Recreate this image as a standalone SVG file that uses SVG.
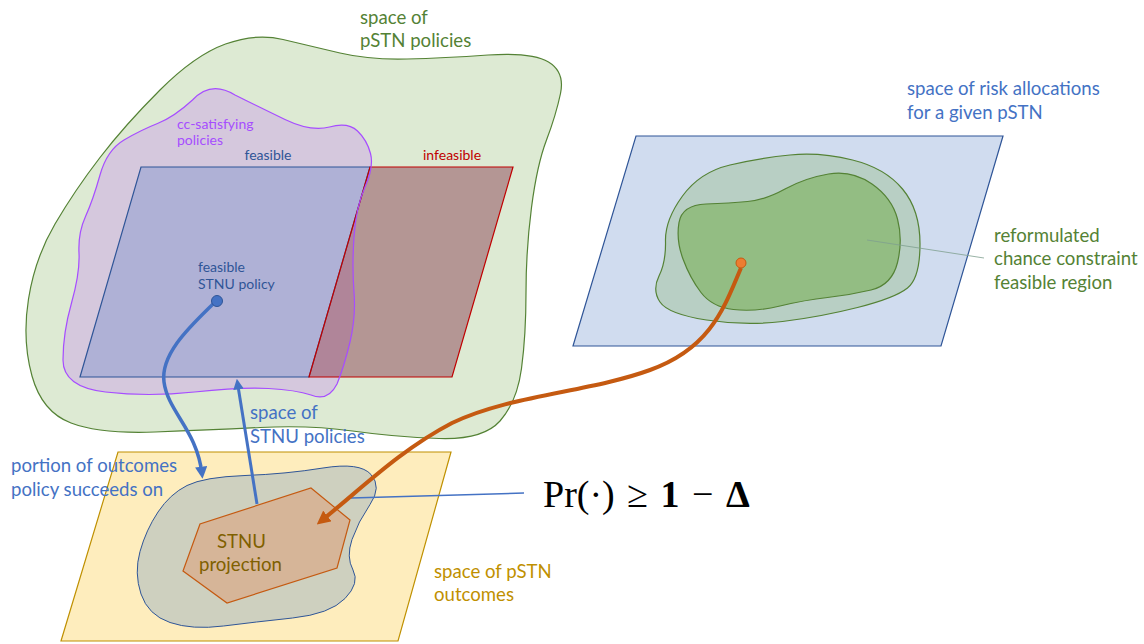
<svg xmlns="http://www.w3.org/2000/svg" width="1144" height="644" viewBox="0 0 1144 644">
<defs>
<style>
.t{font-family:Lato,"Open Sans","Liberation Sans",sans-serif;}
.big{font-size:18.6px;}
.sm{font-size:14px;}
.blue{fill:#4472C4;}
.dblue{fill:#2F5597;}
.green{fill:#548235;}
</style>
<path id="purp" d="M192.5,100 Q211,80 235,95 Q259,107 285,119.5 Q311,132 329.5,127 Q348,122 357.5,131 Q367,140 370.5,153.5 Q374,167 365,187 Q356,207 354,237 Q352,267 354,292 Q356,317 350,342 Q344,367 337,384 Q328,402 311,395 Q296,390 268.5,388.5 Q241,387 194.5,392 Q148,397 105.5,392 Q63,387 63,360 Q63,333 71.5,303 Q80,273 79,253 Q78,233 85.5,216.5 Q93,200 100,175 Q107,150 124,140 Q141,130 157.5,123.5 Q174,117 192.5,100 Z"/>
<marker id="ab" viewBox="0 0 10 10" refX="6" refY="5" markerWidth="3.5" markerHeight="3.5" orient="auto" markerUnits="strokeWidth"><path d="M0,0 L10,5 L0,10 z" fill="#4472C4"/></marker>
<marker id="ao" viewBox="0 0 10 10" refX="6" refY="5" markerWidth="3.4" markerHeight="3.4" orient="auto" markerUnits="strokeWidth"><path d="M0,0 L10,5 L0,10 z" fill="#C55A11"/></marker>
</defs>
<rect width="1144" height="644" fill="#FFFFFF"/>

<g id="pstn-policies">
<path d="M225.5,44 Q256,33 283,39.5 Q310,46 340,53 Q370,60 407,59 Q444,58 488,55 Q532,52 548.5,62 Q565,72 560.5,93.5 Q556,115 546.5,140 Q537,165 531.5,207.5 Q526,250 526,292.5 Q526,335 521.5,368.5 Q517,402 500,421 Q483,440 439,438.5 Q395,437 352.5,431 Q310,425 260,427.5 Q210,430 155,432 Q100,434 71,423 Q42,412 32,376 Q22,340 28.5,299 Q35,258 55,224 Q75,190 100,157.5 Q125,125 160,90 Q195,55 225.5,44 Z" fill="#DDEAD3" stroke="#548235" stroke-width="1.2"/>
<text class="t big green" x="360" y="24">space of</text>
<text class="t big green" x="360" y="47">pSTN policies</text>
</g>

<g id="cc-satisfying">
<use href="#purp" fill="#D5C8DD" stroke="none"/>
<text class="t sm" x="177" y="129" fill="#A64DFF">cc-satisfying</text>
<text class="t sm" x="177" y="145" fill="#A64DFF">policies</text>
</g>

<g id="feasible">
<path d="M141,167 L370,167 L309,377 L80,377 Z" fill="#8999D0" fill-opacity="0.5" stroke="#2F5597" stroke-width="1.2"/>
<text class="t sm dblue" x="268" y="160" text-anchor="middle">feasible</text>
</g>

<g id="infeasible">
<path d="M370,167 L513,167 L452,377 L309,377 Z" fill="#8B4255" fill-opacity="0.5" stroke="#C00000" stroke-width="1.2"/>
<text class="t sm" x="423" y="160" fill="#C00000">infeasible</text>
</g>

<use href="#purp" fill="none" stroke="#A64DFF" stroke-width="1.2"/>

<g id="stnu-policy">
<text class="t sm dblue" x="198" y="272">feasible</text>
<text class="t sm dblue" x="198" y="289">STNU policy</text>
</g>

<g id="risk-space">
<path d="M636,136 L1003,136 L941,346 L573,346 Z" fill="#D0DCEF" stroke="#2F5597" stroke-width="1.2"/>
<text class="t big blue" x="907" y="95">space of risk allocations</text>
<text class="t big blue" x="907" y="119">for a given pSTN</text>
</g>

<g id="cc-region">
<path d="M682.5,196 Q700,172 730,165 Q760,158 790,155 Q820,152 852.5,160 Q885,168 902.5,189 Q920,210 920,244 Q920,278 907.5,288 Q895,298 857.5,307.5 Q820,317 782.5,321.5 Q745,326 706.5,320 Q668,314 660,302 Q652,290 659,276 Q666,262 665.5,241 Q665,220 682.5,196 Z" fill="#B8CFC4" stroke="#548235" stroke-width="1.2"/>
<path d="M679,222.5 Q682,205 706,204 Q730,203 747.5,201.5 Q765,200 785,189 Q805,178 828.5,174 Q852,170 872,184 Q892,198 897.5,219 Q903,240 897.5,262.5 Q892,285 871,290 Q850,295 827.5,297.5 Q805,300 780,306 Q755,312 733.5,309.5 Q712,307 701,292.5 Q690,278 683,259 Q676,240 679,222.5 Z" fill="#93BD83" stroke="#548235" stroke-width="1.2"/>
<line x1="867" y1="240" x2="984" y2="258" stroke="#7F9F8F" stroke-width="0.8"/>
<text class="t big green" x="994" y="242">reformulated</text>
<text class="t big green" x="994" y="265">chance constraint</text>
<text class="t big green" x="994" y="289">feasible region</text>
</g>

<g id="outcomes">
<path d="M118,452 L451,452 L398,641 L61,641 Z" fill="#FEEDBD" stroke="#BF9000" stroke-width="1.2"/>
<text class="t big" x="434" y="578" fill="#BF9000">space of pSTN</text>
<text class="t big" x="434" y="601" fill="#BF9000">outcomes</text>
</g>

<g id="success-portion">
<path d="M187,485.5 Q204,477 245,475.5 Q286,474 323,468 Q360,462 371,474.5 Q382,487 370,504.5 Q358,522 352,539.5 Q346,557 353,570 Q360,583 345,598.5 Q330,614 292.5,618 Q255,622 223.5,626 Q192,630 170,622.5 Q148,615 141,594 Q134,573 140,551.5 Q146,530 158,512 Q170,494 187,485.5 Z" fill="#CED0BF" stroke="#2F5597" stroke-width="1"/>
<text class="t big blue" x="11" y="472">portion of outcomes</text>
<text class="t big blue" x="11" y="496">policy succeeds on</text>
</g>

<g id="stnu-projection">
<path d="M311,488 L350,520 L337,568 L227,603 L183,571 L200,524 Z" fill="#D6B598" stroke="#C55A11" stroke-width="1.2"/>
<text class="t big" x="217" y="548" fill="#7F6000">STNU</text>
<text class="t big" x="199" y="571" fill="#7F6000">projection</text>
</g>

<g id="formula">
<text x="543" y="507" font-family="'Liberation Serif','DejaVu Serif',serif" font-size="38" word-spacing="3" fill="#000000">Pr(·) ≥ <tspan font-weight="bold">1</tspan> − <tspan font-weight="bold">Δ</tspan></text>
</g>

<g id="connectors" fill="none">
<path d="M216,301 C195,322 160,352 164,382 C168,412 197,430 202,474" stroke="#4472C4" stroke-width="3.5" marker-end="url(#ab)"/>
<path d="M257,504 L237.5,383" stroke="#4472C4" stroke-width="3" marker-end="url(#ab)"/>
<line x1="351" y1="498" x2="524" y2="493" stroke="#4472C4" stroke-width="1.5"/>
<path d="M741,268 C725,305 712,348 650,370 C590,392 510,395 452,423 C400,450 360,490 321,521" stroke="#C55A11" stroke-width="4" marker-end="url(#ao)"/>
</g>

<g id="dots">
<circle cx="217" cy="301" r="5.5" fill="#4472C4" stroke="#2F5597" stroke-width="1"/>
<circle cx="741" cy="263" r="5" fill="#ED7D31" stroke="#C55A11" stroke-width="1"/>
</g>

<text class="t big blue" x="250" y="419">space of</text>
<text class="t big blue" x="250" y="443">STNU policies</text>
</svg>
